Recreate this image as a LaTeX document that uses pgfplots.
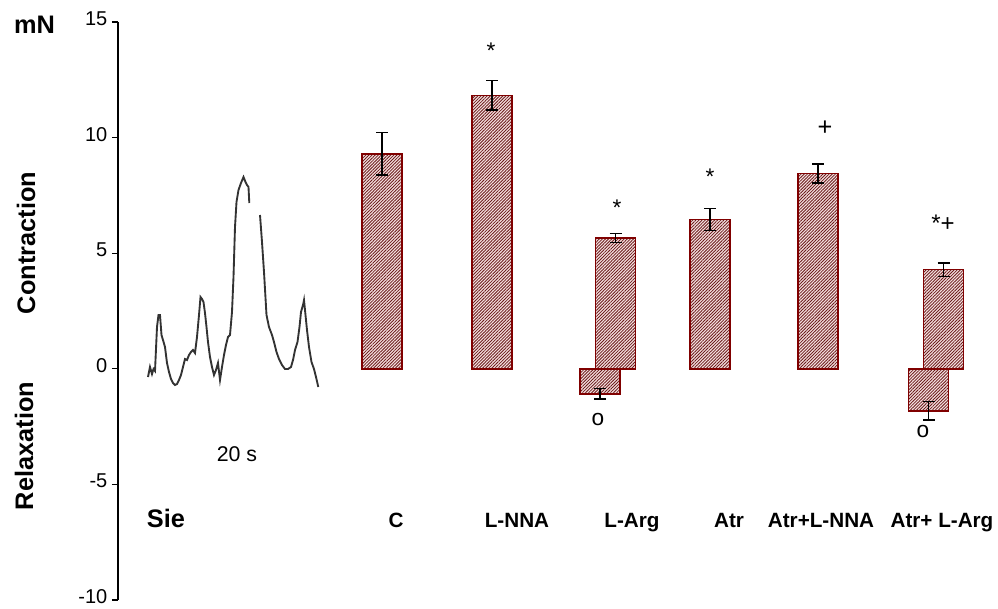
\documentclass[border=0pt]{standalone}
\usepackage{pgfplots}
\pgfplotsset{compat=1.18}
\usepackage{fontspec}
\setmainfont{Liberation Sans}
\usetikzlibrary{patterns.meta}
\definecolor{barred}{HTML}{800000}
\definecolor{barfill}{HTML}{F6E0E0}
\definecolor{hatch}{HTML}{6A1C1C}
\newcommand\lab{\fontsize{15.5}{18}\selectfont\bfseries}
\newcommand\biglab{\fontsize{19}{22}\selectfont\bfseries}
\newcommand\mk{\fontsize{17}{20}\selectfont}
\begin{document}
\begin{tikzpicture}
\path[use as bounding box] (-88.5pt,-6pt) rectangle (660pt,450pt);
\begin{axis}[
  at={(0,0)}, anchor=south west,
  scale only axis, width=654pt, height=433.5pt,
  xmin=118, xmax=990, ymin=-10, ymax=15,
  axis x line=none, axis y line*=left,
  ytick={-10,-5,0,5,10,15},
  tick align=outside, major tick length=4.5pt,
  tick style={line width=1pt, black},
  axis line style={line width=1.1pt, black},
  /pgf/number format/assume math mode=true,
  yticklabel style={font=\fontsize{15}{18}\selectfont, yshift=2.6pt, inner ysep=0.5pt},
  clip=false,
]
% bars (x in pixel units of the figure)
\addplot[ybar, bar width=30pt, bar shift=0pt, draw=barred, line width=1.1pt,
  fill=barfill, postaction={pattern={Lines[angle=45,distance=1.65pt,line width=0.62pt]}, pattern color=hatch},
  error bars/.cd, y dir=both, y explicit,
  error bar style={line width=1.1pt, black},
  error mark options={rotate=90, mark size=4.5pt, line width=1.1pt, black}]
  coordinates {
  (382,9.30) +- (0,0.92)
  (492,11.83) +- (0,0.63)
  (600,-1.08) +- (0,0.22)
  (615.5,5.66) +- (0,0.19)
  (710,6.46) +- (0,0.48)
  (818,8.44) +- (0,0.41)
  (928.5,-1.82) +- (0,0.40)
  (943.5,4.29) +- (0,0.29)
  };
% recorded trace (pixel coordinates of the original figure)
\addplot[color=black!80, line width=1.4pt, no marks] table[x=px, y expr=(371.8-\thisrow{py})/23.12] {
px py
148 380
150 370
152 377
153.5 372
155 374
157 330
158.5 318
160 318
161.5 338
163 343
165 350
167 366
169 375
171 382
173 386
175 388
177 387
179 383
181 378
183 370
185 362
187 363
189 358
191 355
193 353
195 356
197 340
199 318
200.5 300
202 302
203.5 305
205 316
206.5 330
208 345
210 360
212 370
214 378
216 373
218 366
220 383
222 370
224 358
226 348
228 340
230 338
232 315
233.5 280
235 230
236.5 205
238.5 193
241 186
243.5 180
245.5 185
247 188
248.5 190
249.3 206
};
\addplot[color=black!80, line width=1.4pt, no marks] table[x=px, y expr=(371.8-\thisrow{py})/23.12] {
px py
260 218
262 245
264 275
266.5 318
269 330
272 338
274 345
276.5 355
279 362
282 368
285 372
288 372
291 370
293 363
295 353
297.5 345
299.5 330
301 315
303 308
304 303
305.5 318
307 333
309 350
311.5 365
314 372
316 380
318.3 390
};
% texts
\node[anchor=base] at (axis cs:34.5,14.49) {\biglab mN};
\node[rotate=90] at (axis cs:26,5.44) {\biglab Contraction};
\node[rotate=90] at (axis cs:24,-3.34) {\biglab Relaxation};
\node[anchor=base] at (axis cs:237,-4.03) {\fontsize{16}{19}\selectfont 20 s};
\node[anchor=base] at (axis cs:166,-6.86) {\biglab Sie};
\node[anchor=base] at (axis cs:396,-6.86) {\lab C};
\node[anchor=base] at (axis cs:517,-6.86) {\lab L-NNA};
\node[anchor=base] at (axis cs:632,-6.86) {\lab L-Arg};
\node[anchor=base] at (axis cs:729,-6.86) {\lab Atr};
\node[anchor=base] at (axis cs:821,-6.86) {\lab Atr+L-NNA};
\node[anchor=base] at (axis cs:942,-6.86) {\lab Atr+ L-Arg};
\node[anchor=base] at (axis cs:491,13.44) {\mk *};
\node[anchor=base] at (axis cs:617,6.61) {\mk *};
\node[anchor=base] at (axis cs:710,7.99) {\mk *};
\node[anchor=base] at (axis cs:825,10.07) {\fontsize{19}{22}\selectfont +};
\node[anchor=base] at (axis cs:943,5.94) {\fontsize{18}{21}\selectfont *+};
\node[anchor=base] at (axis cs:598,-2.47) {\fontsize{17}{20}\selectfont o};
\node[anchor=base] at (axis cs:923,-2.99) {\fontsize{17}{20}\selectfont o};
\end{axis}
\end{tikzpicture}
\end{document}
